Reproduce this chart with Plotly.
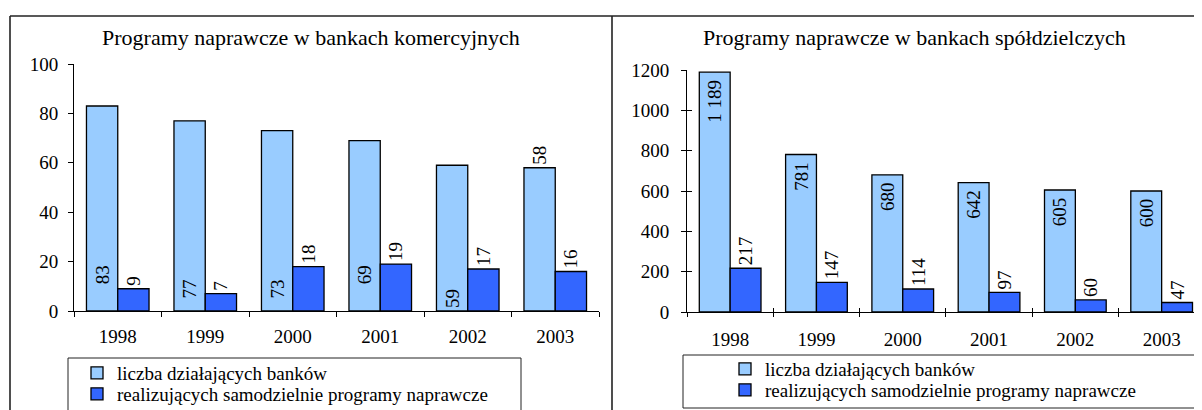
import plotly.graph_objects as go

years = ["1998", "1999", "2000", "2001", "2002", "2003"]

kom_dzialajace = [83, 77, 73, 69, 59, 58]
kom_naprawcze = [9, 7, 18, 19, 17, 16]

spol_dzialajace = [1189, 781, 680, 642, 605, 600]
spol_naprawcze = [217, 147, 114, 97, 60, 47]

name_a = "liczba działających banków"
name_b = "realizujących samodzielnie programy naprawcze"
title_left = "Programy naprawcze w bankach komercyjnych"
title_right = "Programy naprawcze w bankach spółdzielczych"

# label placement style for the left light bars (how far from the base)
left_label_pad = [5, 2, 2, 5, 0, 0]
left_label_pos = ["inside", "inside", "inside", "inside", "inside", "outside"]

# page has an 8px body margin; figure fills the rest of the 1202x410 window
OFF = 8
W, H = 1202 - OFF, 410 - OFF
FONT = "Liberation Serif"
LIGHT = "#99CCFF"
DARK = "#3366FF"
NBSP = "\u00a0"


def fmt(v):
    return f"{v:,}".replace(",", " ")


def px(x):
    return (x - OFF) / W


def py(y):
    return (H - (y - OFF)) / H


lbl_font = dict(family=FONT, size=19, color="black")
fig = go.Figure()

# left chart
fig.add_trace(go.Bar(
    x=years, y=kom_dzialajace, name=name_a, xaxis="x", yaxis="y",
    marker=dict(color=LIGHT, line=dict(color="black", width=1.3)),
    text=[NBSP * p + fmt(v) for v, p in zip(kom_dzialajace, left_label_pad)],
    textposition=left_label_pos,
    insidetextanchor="start", textangle=-90, constraintext="none",
    textfont=lbl_font, cliponaxis=False, legend="legend",
))
fig.add_trace(go.Bar(
    x=years, y=kom_naprawcze, name=name_b, xaxis="x", yaxis="y",
    marker=dict(color=DARK, line=dict(color="black", width=1.3)),
    text=[fmt(v) for v in kom_naprawcze],
    textposition="outside", textangle=-90, constraintext="none",
    textfont=lbl_font, cliponaxis=False, legend="legend2",
))

# right chart
fig.add_trace(go.Bar(
    x=years, y=spol_dzialajace, name=name_a, xaxis="x2", yaxis="y2",
    marker=dict(color=LIGHT, line=dict(color="black", width=1.3)),
    text=[fmt(v) + NBSP for v in spol_dzialajace],
    textposition="inside", insidetextanchor="end", textangle=-90,
    constraintext="none", textfont=lbl_font, cliponaxis=False,
    legend="legend3",
))
fig.add_trace(go.Bar(
    x=years, y=spol_naprawcze, name=name_b, xaxis="x2", yaxis="y2",
    marker=dict(color=DARK, line=dict(color="black", width=1.3)),
    text=[fmt(v) for v in spol_naprawcze],
    textposition="outside", textangle=-90, constraintext="none",
    textfont=lbl_font, cliponaxis=False, legend="legend4",
))

# dummy invisible trace so the overlay axes (crossing ticks) render
fig.add_trace(go.Scatter(x=[0], y=[0], xaxis="x3", yaxis="y3", mode="markers",
                         marker=dict(opacity=0), showlegend=False,
                         hoverinfo="skip"))

tickfont = dict(family=FONT, size=19, color="black")
axis_common = dict(showgrid=False, zeroline=False, showline=True,
                   linecolor="black", linewidth=1, tickcolor="black",
                   tickwidth=1, tickfont=tickfont)

# right x axis runs past the page edge: keep the category width
r_left, r_cat = 687, 86.3
r_range_max = -0.5 + (1202 - r_left) / r_cat


def leg(x_text, y_mid):
    return dict(x=px(x_text - 40), y=py(y_mid), xref="container",
                yref="container", xanchor="left", yanchor="middle",
                bgcolor="rgba(0,0,0,0)", borderwidth=0,
                font=dict(family=FONT, size=19, color="black"),
                itemclick=False, itemdoubleclick=False)


fig.update_layout(
    width=W, height=H,
    margin=dict(l=0, r=0, t=0, b=0, autoexpand=False),
    paper_bgcolor="white", plot_bgcolor="rgba(0,0,0,0)",
    barmode="group", bargap=0.285, bargroupgap=0,
    font=dict(family=FONT, color="black"),
    xaxis=dict(domain=[px(74), px(599)], anchor="y", type="category",
               range=[-0.5, 5.5], ticks="outside", ticklen=5,
               tickson="boundaries", ticklabelstandoff=8, **axis_common),
    yaxis=dict(domain=[py(311), py(64)], anchor="x", range=[0, 100],
               dtick=20, ticks="outside", ticklen=5, ticklabelstandoff=6,
               **axis_common),
    xaxis2=dict(domain=[px(r_left), 1.0], anchor="y2", type="category",
                range=[-0.5, r_range_max], ticks="outside", ticklen=4,
                tickson="boundaries", ticklabelstandoff=10, **axis_common),
    yaxis2=dict(domain=[py(312), py(70)], anchor="x2", range=[0, 1200],
                dtick=200, ticks="outside", ticklen=5, ticklabelstandoff=8,
                **axis_common),
    xaxis3=dict(overlaying="x2", anchor="y2", range=[-0.5, r_range_max],
                tickvals=[0.5, 1.5, 2.5, 3.5, 4.5, 5.5], ticks="inside",
                ticklen=4, tickcolor="black", showticklabels=False,
                showline=False, showgrid=False, zeroline=False),
    yaxis3=dict(overlaying="y2", anchor="x2", range=[0, 1200], dtick=200,
                ticks="inside", ticklen=5, tickcolor="black",
                showticklabels=False, showline=False, showgrid=False,
                zeroline=False),
    showlegend=True,
    legend=leg(117, 373),
    legend2=leg(117, 394),
    legend3=leg(765, 369),
    legend4=leg(765, 390),
)

fig.add_annotation(text=title_left, x=px(311), y=py(38), xref="paper",
                   yref="paper", showarrow=False, xanchor="center",
                   yanchor="middle", font=dict(family=FONT, size=22))
fig.add_annotation(text=title_right, x=px(914), y=py(38), xref="paper",
                   yref="paper", showarrow=False, xanchor="center",
                   yanchor="middle", font=dict(family=FONT, size=22))

line = dict(color="#222222", width=1.6)
shapes = [
    dict(type="line", xref="paper", yref="paper", x0=px(10), x1=1.0,
         y0=py(16), y1=py(16), line=line),
    dict(type="line", xref="paper", yref="paper", x0=px(10), x1=px(10),
         y0=py(16), y1=py(420), line=line),
    dict(type="line", xref="paper", yref="paper", x0=px(612), x1=px(612),
         y0=py(16), y1=py(420), line=line),
    dict(type="rect", xref="paper", yref="paper", x0=px(68), x1=px(521),
         y0=py(358), y1=py(420), line=dict(color="#222222", width=1)),
    dict(type="rect", xref="paper", yref="paper", x0=px(683), x1=px(1260),
         y0=py(355), y1=py(408), line=dict(color="#222222", width=1)),
]
fig.update_layout(shapes=shapes)

fig.write_html("out.html")
